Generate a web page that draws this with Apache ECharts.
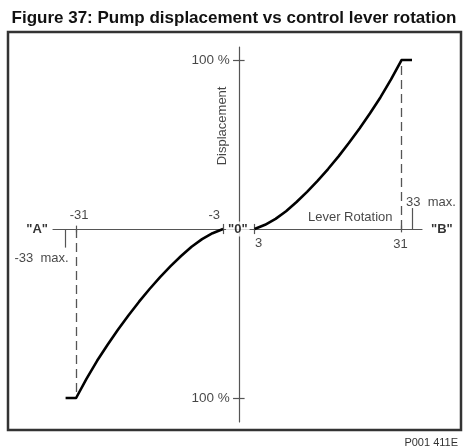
<!DOCTYPE html>
<html>
<head>
<meta charset="utf-8">
<script src="https://cdn.jsdelivr.net/npm/echarts@6/dist/echarts.min.js"></script>
<style>
  html, body { margin: 0; padding: 0; background: #fff; }
  #chart { width: 463px; height: 447px; }
</style>
</head>
<body>
<div id="chart"></div>
<script>
// Figure text
const figureTitle = 'Figure 37: Pump displacement vs control lever rotation';
const figureCode = 'P001 411E';

// Lever rotation (degrees) and pump displacement (%) for each stroking direction
const leverLeft = [-33, -31, -29, -27, -25, -23, -21, -19, -17, -15, -13, -11, -9, -7, -5, -3];
const dispLeft = [-100, -100, -88.5, -78, -68.5, -59.5, -51, -43, -35.5, -28.5, -22, -16, -10.5, -6, -2.5, 0];
const leverRight = [3, 5, 7, 9, 11, 13, 15, 17, 19, 21, 23, 25, 27, 29, 31, 33];
const dispRight = [0, 2.5, 6, 10.5, 16, 22, 28.5, 35.5, 43, 51, 59.5, 68.5, 78, 88.5, 100, 100];

// Marked rotation angles and displacement limits
const deadband = [-3, 3];
const ratedRotation = [-31, 31];
const maxRotation = [-33, 33];
const fullDisplacement = [-100, 100];
const displacementLabel = '100 %';
const maxSuffix = 'max.';
const endLabels = ['"A"', '"B"'];
const originLabel = '"0"';
const xName = 'Lever Rotation';
const yName = 'Displacement';

// Axis extents
const xRange = [-35.4, 34.9];
const yRange = [-114.2, 107.7];

const FONT = '"Liberation Sans", Arial, Helvetica, sans-serif';
const TXT = '#161616';
const AX = '#555';

const zip = (xs, ys) => xs.map((x, i) => [x, ys[i]]);

function tag(pt, text, opts) {
  return {
    value: pt,
    label: Object.assign({
      show: true, position: 'inside', formatter: text,
      fontFamily: FONT, fontSize: 13, color: TXT
    }, opts)
  };
}

function seg(a, b) { return [{ coord: a }, { coord: b }]; }

const labelData = [
  tag([ratedRotation[0], 0], String(ratedRotation[0]), { offset: [3, -14] }),
  tag([deadband[0], 0], String(deadband[0]), { align: 'right', offset: [-3, -14] }),
  tag([deadband[1], 0], String(deadband[1]), { offset: [4, 14] }),
  tag([ratedRotation[1], 0], String(ratedRotation[1]), { offset: [-1, 15] }),
  tag([0, fullDisplacement[1]], displacementLabel, { align: 'right', offset: [-9, 0], fontSize: 13.5 }),
  tag([0, fullDisplacement[0]], displacementLabel, { align: 'right', offset: [-9, 0], fontSize: 13.5 }),
  tag([maxRotation[1], 0], maxRotation[1] + '  ' + maxSuffix, { align: 'left', offset: [-6, -27] }),
  tag([maxRotation[0], 0], maxRotation[0] + '  ' + maxSuffix, { align: 'right', offset: [3, 29] }),
  tag([ratedRotation[1], 0], xName, { align: 'right', offset: [-9, -12] }),
  tag([0, 61], yName, { rotate: 90, offset: [0, -16] }),
  tag([xRange[0], 0], endLabels[0], { align: 'right', offset: [-5, 0], fontWeight: 'bold', color: '#000' }),
  tag([xRange[1], 0], endLabels[1], { align: 'left', offset: [9, 0], fontWeight: 'bold', color: '#000' }),
  tag([0, 0], originLabel, { fontWeight: 'bold', color: '#000', backgroundColor: '#fff', padding: [1, 2], offset: [-1, 0] })
];

const tickSegs = [
  seg([deadband[0], -3], [deadband[0], 3]),
  seg([deadband[1], -3], [deadband[1], 3]),
  seg([ratedRotation[0], -2], [ratedRotation[0], 2]),
  seg([ratedRotation[1], -2], [ratedRotation[1], 2]),
  seg([maxRotation[1], 0], [maxRotation[1], 12.4]),
  seg([maxRotation[0], 0], [maxRotation[0], -11]),
  seg([-1.1, fullDisplacement[1]], [1.1, fullDisplacement[1]]),
  seg([-1.1, fullDisplacement[0]], [1.1, fullDisplacement[0]])
];

const dashSegs = [
  seg([ratedRotation[1], 0], [ratedRotation[1], fullDisplacement[1]]),
  seg([ratedRotation[0], 0], [ratedRotation[0], fullDisplacement[0]])
];

const chart = echarts.init(document.getElementById('chart'), null, { renderer: 'canvas' });

chart.setOption({
  animation: false,
  backgroundColor: '#fff',
  grid: { left: 53, right: 41, top: 47, bottom: 25, containLabel: false },
  xAxis: {
    type: 'value', min: xRange[0], max: xRange[1],
    axisLine: { show: true, onZero: true, lineStyle: { color: AX, width: 1.2 } },
    axisTick: { show: false }, axisLabel: { show: false }, splitLine: { show: false }
  },
  yAxis: {
    type: 'value', min: yRange[0], max: yRange[1],
    axisLine: { show: true, onZero: true, lineStyle: { color: AX, width: 1.2 } },
    axisTick: { show: false }, axisLabel: { show: false }, splitLine: { show: false }
  },
  graphic: [
    {
      type: 'rect', shape: { x: 8, y: 32, width: 453, height: 398 },
      style: { fill: 'none', stroke: '#333', lineWidth: 2.5 }, z: 100
    },
    {
      type: 'text', x: 234, y: 18,
      style: {
        text: figureTitle, fontFamily: FONT, fontSize: 17, fontWeight: 'bold',
        fill: '#111', align: 'center', verticalAlign: 'middle'
      }
    },
    {
      type: 'text', x: 458, y: 443,
      style: {
        text: figureCode, fontFamily: FONT, fontSize: 11,
        fill: '#333', align: 'right', verticalAlign: 'middle'
      }
    }
  ],
  series: [
    {
      name: 'dashed', type: 'line', data: [], silent: true,
      markLine: {
        silent: true, symbol: 'none', label: { show: false },
        lineStyle: { color: AX, width: 1.3, type: [9, 5] },
        data: dashSegs
      }
    },
    {
      name: 'ticks', type: 'line', data: [], silent: true,
      markLine: {
        silent: true, symbol: 'none', label: { show: false },
        lineStyle: { color: AX, width: 1.2, type: 'solid' },
        data: tickSegs
      }
    },
    {
      name: 'A side', type: 'line', data: zip(leverLeft, dispLeft),
      showSymbol: false, smooth: false, clip: false,
      lineStyle: { color: '#000', width: 2.6, join: 'round' }, z: 5
    },
    {
      name: 'B side', type: 'line', data: zip(leverRight, dispRight),
      showSymbol: false, smooth: false, clip: false,
      lineStyle: { color: '#000', width: 2.6, join: 'round' }, z: 5
    },
    {
      name: 'labels', type: 'scatter', symbolSize: 0, clip: false, silent: true,
      data: labelData, z: 10
    }
  ]
});
</script>
</body>
</html>
